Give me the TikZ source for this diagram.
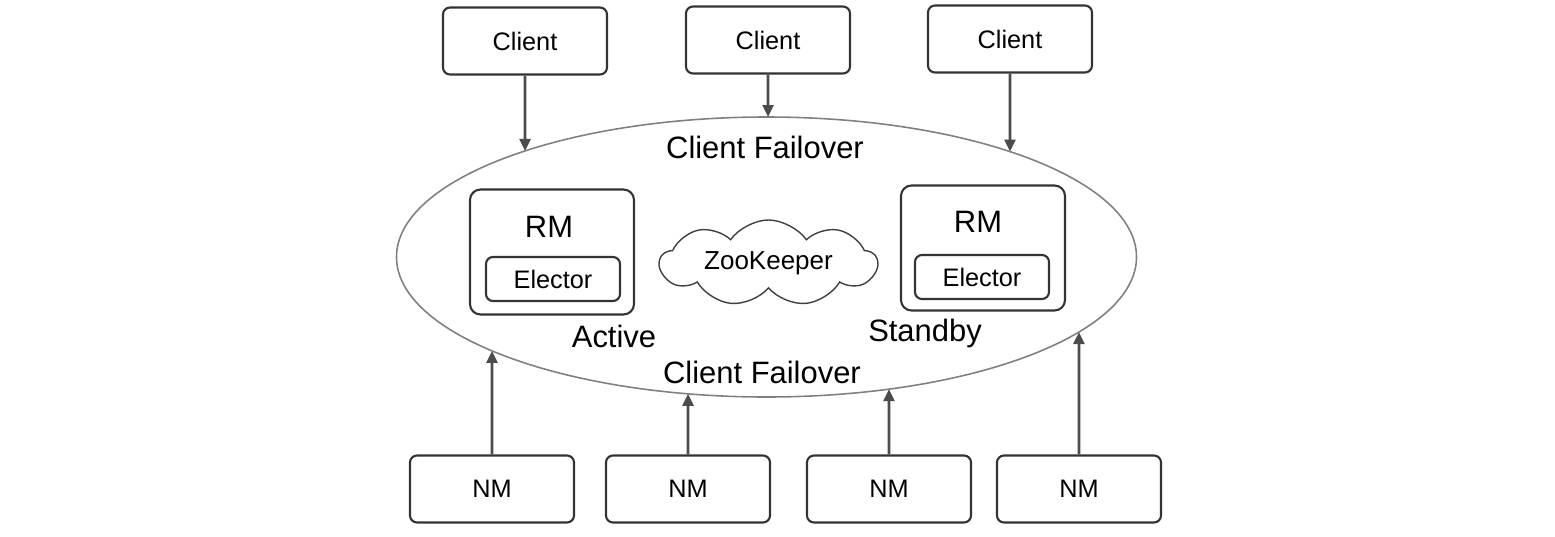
\documentclass[tikz,border=0pt]{standalone}
\usepackage{fontspec}
\setmainfont{Liberation Sans}
\usetikzlibrary{arrows.meta,shapes.symbols,intersections}
\tikzset{
  box/.style={draw=black!80,semithick,rounded corners=2pt,minimum width=1.64cm,minimum height=0.67cm,font=\fontsize{7.2}{8.6}\selectfont},
  rmbox/.style={draw=black!80,semithick,rounded corners=3pt,minimum width=1.64cm,minimum height=1.25cm},
  elbox/.style={draw=black!80,semithick,rounded corners=2pt,minimum width=1.34cm,minimum height=0.44cm,font=\fontsize{7.2}{8.6}\selectfont},
  big/.style={font=\fontsize{8.8}{10.5}\selectfont,inner sep=0pt},
  zk/.style={cloud,cloud puffs=9,cloud puff arc=110,cloud ignores aspect,draw=black!75,thin,minimum width=2.17cm,minimum height=0.86cm,inner sep=0pt,font=\fontsize{7.4}{8.8}\selectfont},
  ring/.style={draw=black!50,line width=0.45pt},
  arr/.style={draw=black!70,line width=0.75pt,-{Triangle[length=1.2mm,width=1.1mm]}}
}
\begin{document}
\begin{tikzpicture}
\useasboundingbox (0,0) rectangle (15.55,5.36);
% clients
\node[box] (c1) at (5.25,4.95) {Client};
\node[box] (c2) at (7.68,4.96) {Client};
\node[box] (c3) at (10.10,4.97) {Client};
% the failover ring
\coordinate (mid) at (7.665,2.79);
\draw[ring,name path=ring] (mid) ellipse [x radius=3.70, y radius=1.40];
\node[big] (ftop) at (7.65,3.89) {Client Failover};
\node[big] (fbot) at (7.62,1.64) {Client Failover};
% resource managers
\node[rmbox] (rm1) at (5.52,2.84) {};
\node[big] (rm1name) at (5.49,3.09) {RM};
\node[elbox] (el1) at (5.53,2.57) {Elector};
\node[big] (act) at (6.14,2.00) {Active};
\node[rmbox] (rm2) at (9.83,2.88) {};
\node[big] (rm2name) at (9.78,3.14) {RM};
\node[elbox] (el2) at (9.82,2.59) {Elector};
\node[big] (stb) at (9.25,2.03) {Standby};
\node[zk] (zk) at (7.685,2.73) {ZooKeeper};
% node managers
\node[box] (n1) at (4.92,0.47) {NM};
\node[box] (n2) at (6.88,0.47) {NM};
\node[box] (n3) at (8.89,0.47) {NM};
\node[box] (n4) at (10.79,0.47) {NM};
% arrows
\foreach \b in {c1,c2,c3,n1,n2,n3,n4}{
  \path[name path=v\b] (\b) -- (\b |- mid);
  \draw[arr,name intersections={of=ring and v\b,by=e\b}] (\b) -- (e\b);
}
\end{tikzpicture}
\end{document}
